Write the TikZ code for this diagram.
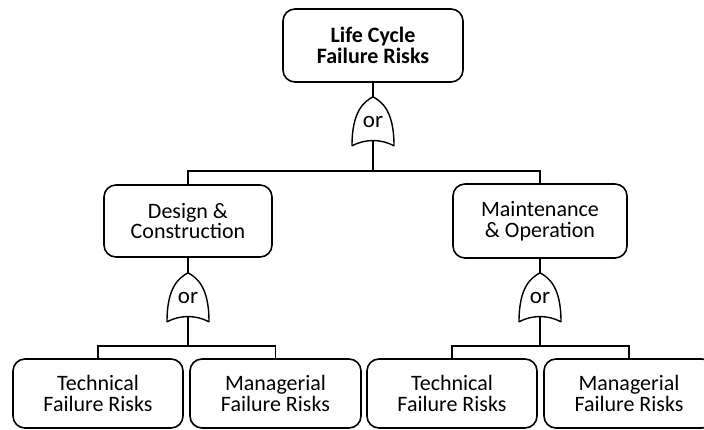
\documentclass[tikz,border=0pt]{standalone}
\usepackage{fontspec}
\setmainfont{Carlito}
\begin{document}
\begin{tikzpicture}[x=1pt,y=-1pt,
  box/.style={draw, line width=1.6pt, rounded corners=12pt, align=center,
    inner sep=0pt, font=\fontsize{22}{20.5}\selectfont},
  gate/.style={inner sep=0pt, minimum width=42pt, minimum height=50pt,
    font=\fontsize{23}{23}\selectfont},
  link/.style={line width=1.3pt},
  gateline/.style={line width=1.4pt, line join=round}]
\useasboundingbox (0,0) rectangle (704,430);

% boxes
\node[box, minimum width=180pt, minimum height=73pt, font=\fontsize{22}{20.5}\selectfont\bfseries]
  (top) at (373,45.5) {Life Cycle\\Failure Risks};
\node[box, minimum width=168pt, minimum height=72pt] (design) at (188,221) {Design \&\\Construction};
\node[box, minimum width=174pt, minimum height=74pt] (maint) at (540,221) {Maintenance\\\& Operation};
\node[box, minimum width=170pt, minimum height=69pt] (b1) at (98,393.5) {Technical\\Failure Risks};
\node[box, minimum width=171pt, minimum height=69pt] (b2) at (275.5,393.5) {Managerial\\Failure Risks};
\node[box, minimum width=170pt, minimum height=69pt] (b3) at (452,393.5) {Technical\\Failure Risks};
\node[box, minimum width=170pt, minimum height=69pt] (b4) at (629,393.5) {Managerial\\Failure Risks};

% OR gates (apex at north, concave base 44pt below it)
\node[gate] (g0) at (373,122) {or};
\node[gate] (g1) at (188,298) {or};
\node[gate] (g2) at (540,298) {or};
\foreach \g in {g0,g1,g2} {
  \draw[gateline] (\g.north)
    .. controls ([shift={(-9,5)}]\g.north) and ([shift={(-21,14)}]\g.north) .. ([shift={(-21,49)}]\g.north)
    .. controls ([shift={(-8,42)}]\g.north) and ([shift={(8,42)}]\g.north) .. ([shift={(21,49)}]\g.north)
    .. controls ([shift={(21,14)}]\g.north) and ([shift={(9,5)}]\g.north) .. (\g.north) -- cycle;
}

% junction points on the bars
\coordinate (j0) at (373,171);
\coordinate (j1) at (188,346);
\coordinate (j2) at (540,346);

% connectors
\draw[link] (top.south) -- (g0.north);
\draw[link] ([yshift=6pt]g0.south) -- (j0);
\draw[link] (design.north) |- (j0) -| (maint.north);

\draw[link] (design.south) -- (g1.north);
\draw[link] ([yshift=6pt]g1.south) -- (j1);
\draw[link] (b1.north) |- (j1) -| (b2.north);

\draw[link] (maint.south) -- (g2.north);
\draw[link] ([yshift=6pt]g2.south) -- (j2);
\draw[link] (b3.north) |- (j2) -| (b4.north);
\end{tikzpicture}
\end{document}
